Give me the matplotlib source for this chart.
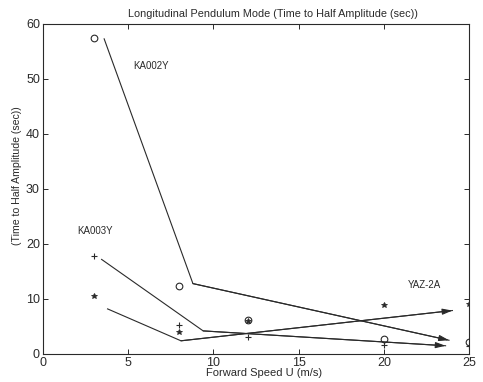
import matplotlib
matplotlib.use('Agg')
import matplotlib.pyplot as plt

plt.rcParams['font.family'] = ['Liberation Sans', 'DejaVu Sans']

# measured points at each forward speed
speed = [3, 8, 12, 20, 25]
t_circle = [57.5, 12.4, 6.2, 2.7, 2.1]
t_plus = [17.8, 5.3, 3.0, 1.6, 1.5]
t_star = [10.6, 4.0, 6.0, 8.9, 9.0]

# fitted trend lines per vehicle
ka002y_x = [3.6, 8.8, 23.8]
ka002y_y = [57.3, 12.8, 2.5]
ka003y_x = [3.45, 9.4, 23.6]
ka003y_y = [17.2, 4.2, 1.5]
yaz2a_x = [3.8, 8.1, 24.0]
yaz2a_y = [8.2, 2.4, 7.9]

labels = ['KA002Y', 'KA003Y', 'YAZ-2A']
label_pos = [(5.3, 51.8), (2.0, 21.8), (21.4, 12.0)]

fig = plt.figure(figsize=(4.83, 3.82), dpi=100)
ax = fig.add_axes([0.0884, 0.0733, 0.8836, 0.8639])

ink = '#2a2a2a'
ax.plot(speed, t_circle, 'o', mfc='none', mec=ink, ms=4.8, mew=0.8)
ax.plot(speed, t_plus, '+', color=ink, ms=4.5, mew=0.8)
ax.plot(speed, t_star, '*', color=ink, ms=4.2, mew=0.6)

for xs, ys in [(ka002y_x, ka002y_y), (ka003y_x, ka003y_y), (yaz2a_x, yaz2a_y)]:
  ax.plot(xs, ys, '-', color=ink, lw=0.8)
  ax.annotate('', xy=(xs[-1], ys[-1]), xytext=(xs[-2], ys[-2]),
              arrowprops=dict(arrowstyle='-|>,head_length=0.6,head_width=0.18',
                              color=ink, lw=0.8, shrinkA=0, shrinkB=0))

for name, (lx, ly) in zip(labels, label_pos):
  ax.text(lx, ly, name, fontsize=7, color=ink)

ax.set_xlim(0, 25)
ax.set_ylim(0, 60)
ax.set_xticks([0, 5, 10, 15, 20, 25])
ax.set_yticks([0, 10, 20, 30, 40, 50, 60])
ax.tick_params(direction='in', top=True, right=True, labelsize=9,
               length=3.5, width=0.7, colors=ink, pad=2)
for s in ax.spines.values():
  s.set_linewidth(0.8)
  s.set_color(ink)

ax.text(0.54, 1.015, 'Longitudinal Pendulum Mode (Time to Half Amplitude (sec))',
        transform=ax.transAxes, ha='center', va='bottom', fontsize=7.8, color=ink)
fig.text(264 / 483, 1 - 373 / 382, 'Forward Speed U (m/s)', ha='center',
         va='center', fontsize=8, color=ink)
fig.text(17 / 483, 1 - 176 / 382, '(Time to Half Amplitude (sec))', ha='center',
         va='center', rotation=90, fontsize=7.6, color=ink)

fig.savefig('out.png', dpi=100)
